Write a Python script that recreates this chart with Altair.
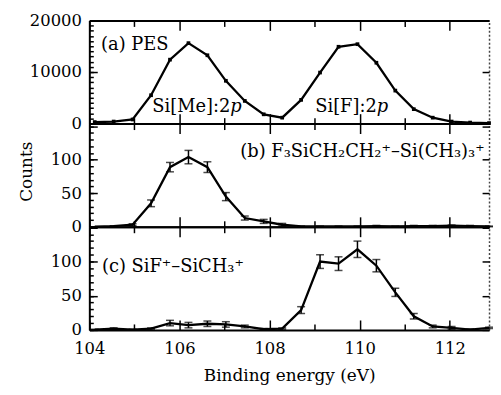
import altair as alt
import pandas as pd

# ---------------- data ----------------
energy = [104.12, 104.54, 104.96, 105.37, 105.79, 106.20, 106.62, 107.03, 107.45, 107.87, 108.28,
          108.70, 109.12, 109.53, 109.95, 110.37, 110.79, 111.20, 111.62, 112.04, 112.45, 112.87]
pes_counts = [300, 400, 800, 5500, 12400, 15600, 13250, 8300, 4400, 1800, 1150,
              4600, 9900, 14900, 15400, 11800, 6400, 2800, 1150, 400, 200, 100]
b_counts = [0, 1, 3, 35, 89, 104, 89, 45, 13, 8, 3,
            0.5, 0.5, 0.5, 0.5, 1, 0.5, 1, 1, 1.5, 1, 0.5]
b_err = [0, 0.5, 1.5, 5, 7, 10, 8, 6, 3, 3, 2,
         0.5, 0.5, 0.5, 0.5, 1, 0.5, 1, 1, 1, 1, 0.5]
c_counts = [0.5, 2, 0.5, 2, 10, 7, 9, 8, 5, 1, 2,
            29, 100, 97, 118, 94, 55, 20, 5, 3, 0.5, 3]
c_err = [0.5, 1, 0.5, 1, 4, 4, 4, 4, 2, 1, 1,
         5, 10, 10, 12, 9, 6, 4, 2, 2, 1, 1]

x_major = [104, 106, 108, 110, 112]
x_minor = [105, 107, 109, 111]
a_major = [0, 10000, 20000]
a_minor = list(range(0, 20001, 1000))
a_labels = [0, 10000, 20000]
bc_major = [0, 50, 100, 150]
bc_minor = list(range(0, 151, 10))
bc_labels = [0, 50, 100]

FONT = "DejaVu Serif"
W, H = 403, 104
XDOM = [104, 112.87]

df = pd.DataFrame({"E": energy, "pes": pes_counts, "b": b_counts, "c": c_counts})
df["b_lo"] = [max(0, v - e) for v, e in zip(b_counts, b_err)]
df["b_hi"] = [v + e for v, e in zip(b_counts, b_err)]
df["c_lo"] = [max(0, v - e) for v, e in zip(c_counts, c_err)]
df["c_hi"] = [v + e for v, e in zip(c_counts, c_err)]

LBL = dict(labelFont=FONT, labelFontSize=16.5, labelColor="black", labelFlush=False)
TTL = dict(titleFont=FONT, titleFontSize=17, titleFontWeight="normal", titleColor="black")


def X(axis=None, field="E"):
    return alt.X(f"{field}:Q", scale=alt.Scale(domain=XDOM, nice=False, zero=False), axis=axis)


def Y(field, dom, axis=None):
    return alt.Y(f"{field}:Q", scale=alt.Scale(domain=dom, nice=False, zero=False), axis=axis)


def tick_axis(orient, values, size, offset):
    return alt.Axis(orient=orient, values=values, tickSize=size, tickWidth=1.5, tickColor="black",
                    ticks=True, labels=False, domain=False, offset=offset, title=None, grid=False)


def dummy(field, ydom, xaxis, yaxis):
    return alt.Chart(df).mark_point(opacity=0).encode(x=X(xaxis), y=Y(field, ydom, yaxis))


def text_layer(x, y, txt, ydom, align="left", style="normal", baseline="alphabetic"):
    t = pd.DataFrame({"E": [x], "v": [y], "t": [txt]})
    return alt.Chart(t).mark_text(font=FONT, fontSize=18, align=align, baseline=baseline,
                                  fontStyle=style, color="black").encode(
        x=X(None), y=Y("v", ydom, None), text="t:N")


def panel(field, ydom, ymaj, ymin, ylab, ytitle, show_x, extra):
    if show_x:
        x_main = alt.Axis(orient="bottom", values=x_major, ticks=False, labels=True, labelPadding=11,
                          format="d", domain=True, domainWidth=2, domainColor="black", grid=False,
                          title="Binding energy (eV)", titlePadding=11, **LBL, **TTL)
    else:
        x_main = alt.Axis(orient="bottom", values=x_major, ticks=False, labels=False,
                          domain=True, domainWidth=2, domainColor="black", grid=False, title=None)
    if ytitle:
        y_main = alt.Axis(orient="left", values=ylab, ticks=False, labelPadding=8, format="d",
                          domain=True, domainWidth=2, domainColor="black", grid=False,
                          title=ytitle, titlePadding=14.5, titleY=48, **LBL, **TTL)
    else:
        y_main = alt.Axis(orient="left", values=ylab, ticks=False, labelPadding=8, format="d",
                          domain=True, domainWidth=2, domainColor="black", grid=False,
                          title=None, **LBL)
    x_top = alt.Axis(orient="top", ticks=False, labels=False, domain=True, domainWidth=2,
                     domainColor="black", grid=False, title=None)
    y_right = alt.Axis(orient="right", ticks=False, labels=False, domain=True, domainWidth=1.5,
                       domainColor="#444444", domainDash=[2, 2], grid=False, title=None)

    line = alt.Chart(df).mark_line(color="black", strokeWidth=2.3, clip=True).encode(
        x=X(x_main), y=Y(field, ydom, y_main))
    layers = [
        line,
        dummy(field, ydom, x_top, y_right),
        dummy(field, ydom, tick_axis("top", x_major, 10, -H), tick_axis("right", ymaj, 8, -W)),
        dummy(field, ydom, tick_axis("top", x_minor, 6, -H), tick_axis("right", ymin, 4, -W)),
        dummy(field, ydom, tick_axis("bottom", x_major, 10, -H), tick_axis("left", ymaj, 7, -W)),
        dummy(field, ydom, tick_axis("bottom", x_minor, 6, -H), None),
    ] + extra
    return alt.layer(*layers).resolve_scale(x="independent", y="independent").properties(
        width=W, height=H)


def errorbars(field, ydom):
    rule = alt.Chart(df).mark_rule(color="black", strokeWidth=1.5).encode(
        x=X(None), y=Y(f"{field}_lo", ydom, None), y2=f"{field}_hi:Q")
    cap_lo = alt.Chart(df).mark_tick(color="black", orient="horizontal", size=8, thickness=1.5).encode(
        x=X(None), y=Y(f"{field}_lo", ydom, None))
    cap_hi = alt.Chart(df).mark_tick(color="black", orient="horizontal", size=8, thickness=1.5).encode(
        x=X(None), y=Y(f"{field}_hi", ydom, None))
    return [rule, cap_lo, cap_hi]


A_DOM = [0, 20000]
B_DOM = [0, 154]
C_DOM = [0, 151]

pts_a = alt.Chart(df).mark_square(color="black", size=14, opacity=1).encode(
    x=X(None), y=Y("pes", A_DOM, None))

panel_a = panel("pes", A_DOM, a_major, a_minor, a_labels, None, False, [
    pts_a,
    text_layer(104.26, 15200, "(a) PES", A_DOM, baseline="middle"),
    text_layer(107.13, 2250, "Si[Me]:2", A_DOM, align="right"),
    text_layer(107.13, 2250, "p", A_DOM, align="left", style="italic"),
    text_layer(110.38, 2250, "Si[F]:2", A_DOM, align="right"),
    text_layer(110.38, 2250, "p", A_DOM, align="left", style="italic"),
])

panel_b = panel("b", B_DOM, bc_major, bc_minor, bc_labels, "Counts", False,
                errorbars("b", B_DOM) + [
                    text_layer(107.35, 104, "(b) F₃SiCH₂CH₂⁺–Si(CH₃)₃⁺", B_DOM)])

panel_c = panel("c", C_DOM, bc_major, bc_minor, bc_labels, None, True,
                errorbars("c", C_DOM) + [
                    text_layer(104.28, 85, "(c) SiF⁺–SiCH₃⁺", C_DOM)])

chart = alt.vconcat(panel_a, panel_b, panel_c, spacing=0, bounds="flush").properties(
    padding={"left": 10, "top": 3, "right": 0, "bottom": 0},
    background="white",
).configure_view(strokeWidth=0)

chart.save("out.html", embed_options={"renderer": "svg", "actions": False})
